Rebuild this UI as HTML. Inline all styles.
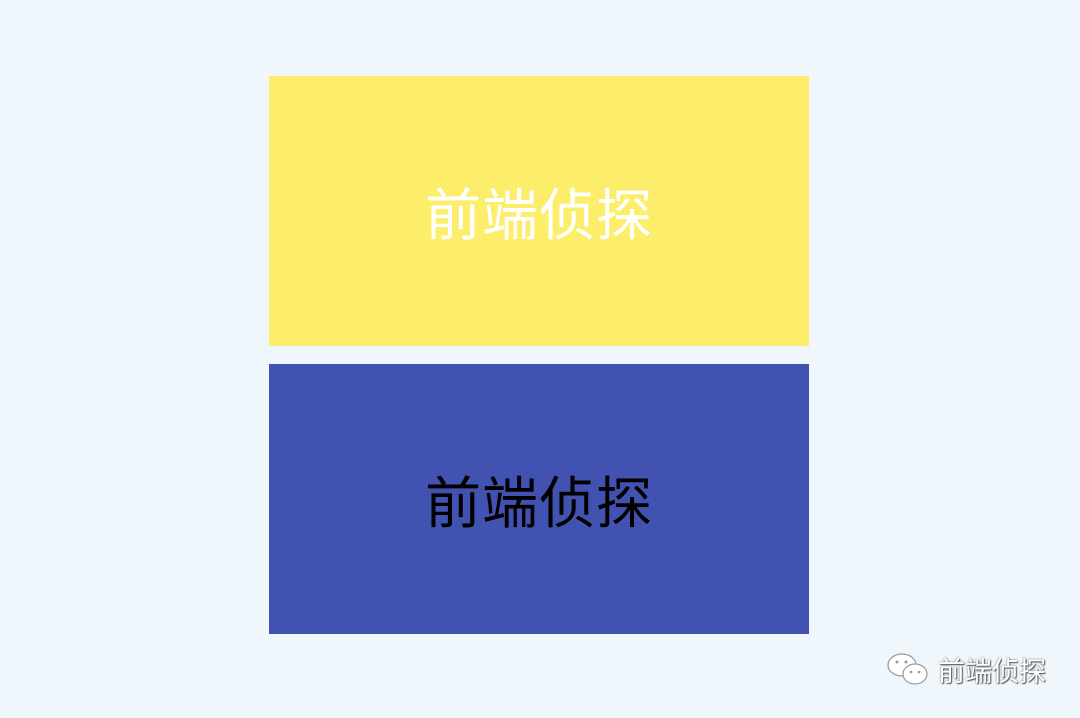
<!DOCTYPE html>
<html><head><meta charset="utf-8"><style>
body{margin:0;width:1080px;height:718px;background:#f0f7fc;position:relative;overflow:hidden;font-family:"Liberation Sans","Noto Sans CJK SC",sans-serif}
.box{position:absolute;left:269px;width:540px;height:270px;display:flex;align-items:center;justify-content:center;font-size:56px;letter-spacing:1px}
#y{top:76px;background:#fcee6a;color:#fff}
#b{top:364px;background:#4252b0;color:#000}
#wm{position:absolute;left:886px;top:650px;display:flex;align-items:center}
#wm span{font-size:27px;color:#fff;text-shadow:0 0 2px #666,1px 1px 1px #555;margin-left:8px}
</style></head><body>
<div id="y" class="box">前端侦探</div>
<div id="b" class="box">前端侦探</div>
<div id="wm">
<svg width="44" height="38" viewBox="0 0 44 38">
<ellipse cx="16" cy="14" rx="14" ry="11" fill="#fff" stroke="#999" stroke-width="1.2"/>
<ellipse cx="29" cy="23" rx="12" ry="10" fill="#fff" stroke="#999" stroke-width="1.2"/>
<circle cx="11" cy="11" r="1.5" fill="#999"/><circle cx="20" cy="11" r="1.5" fill="#999"/>
<circle cx="25" cy="21" r="1.3" fill="#999"/><circle cx="33" cy="21" r="1.3" fill="#999"/>
</svg>
<span>前端侦探</span>
</div>
</body></html>
